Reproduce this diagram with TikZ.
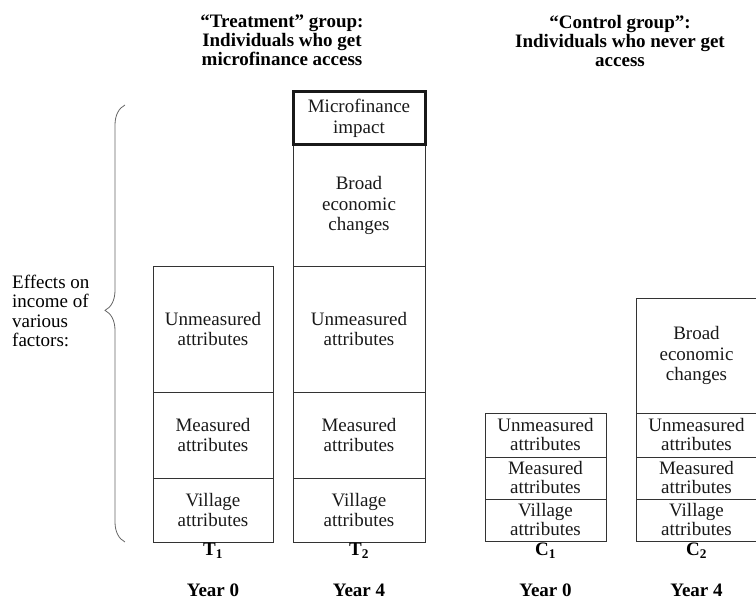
\documentclass[tikz,border=0pt]{standalone}
\usepackage{fontspec}
\setmainfont{Liberation Serif}
\usetikzlibrary{decorations.pathreplacing}

\begin{document}
\begin{tikzpicture}[x=1pt,y=-1pt,
  cell/.style={draw=black!80, line width=0.8pt, inner sep=0pt, align=center,
    text=black!90, font=\fontsize{19}{20.5}\selectfont},
  tightcell/.style={cell, font=\fontsize{19}{19}\selectfont},
  keycell/.style={cell, line width=3pt, draw=black!90},
  heading/.style={align=center, inner sep=0pt, font=\fontsize{19}{19}\selectfont\bfseries},
  colname/.style={inner sep=0pt, font=\fontsize{19}{19}\selectfont\bfseries},
  sidetext/.style={align=left, inner sep=0pt, font=\fontsize{19}{19.5}\selectfont}]
\useasboundingbox (0,0) rectangle (756,601);

% column headings
\node[heading] (treat) at (282,40.5) {“Treatment” group:\\Individuals who get\\microfinance access};
\node[heading] (ctrl) at (620,41.5) {“Control group”:\\Individuals who never get\\access};

% treatment, year 0
\node[cell, minimum width=120, minimum height=126] (t1u) at (213,329) {Unmeasured\\attributes};
\node[cell, minimum width=120, minimum height=86] (t1m) at (213,435) {Measured\\attributes};
\node[cell, minimum width=120, minimum height=64] (t1v) at (213,510) {Village\\attributes};

% treatment, year 4
\node[cell, minimum width=132, minimum height=121] (t2b) at (359,205.5) {Broad\\economic\\changes};
\node[cell, minimum width=132, minimum height=126] (t2u) at (359,329) {Unmeasured\\attributes};
\node[cell, minimum width=132, minimum height=86] (t2m) at (359,435) {Measured\\attributes};
\node[cell, minimum width=132, minimum height=64] (t2v) at (359,510) {Village\\attributes};
\node[keycell, minimum width=132, minimum height=53] (t2i) at (359,118.5) {Microfinance\\impact};

% control, year 0
\node[tightcell, minimum width=121, minimum height=44] (c1u) at (545.5,435) {Unmeasured\\attributes};
\node[tightcell, minimum width=121, minimum height=42] (c1m) at (545.5,478) {Measured\\attributes};
\node[tightcell, minimum width=121, minimum height=42] (c1v) at (545.5,520) {Village\\attributes};

% control, year 4
\node[cell, minimum width=121, minimum height=115] (c2b) at (696.5,355.5) {Broad\\economic\\changes};
\node[tightcell, minimum width=121, minimum height=44] (c2u) at (696.5,435) {Unmeasured\\attributes};
\node[tightcell, minimum width=121, minimum height=42] (c2m) at (696.5,478) {Measured\\attributes};
\node[tightcell, minimum width=121, minimum height=42] (c2v) at (696.5,520) {Village\\attributes};

% column names and years
\node[colname] (n1) at (213,551) {T\textsubscript{\textbf{1}}};
\node[colname] (n2) at (359,551) {T\textsubscript{\textbf{2}}};
\node[colname] (n3) at (545.5,551) {C\textsubscript{\textbf{1}}};
\node[colname] (n4) at (696.5,551) {C\textsubscript{\textbf{2}}};
\node[colname] (y1) at (213,590) {Year 0};
\node[colname] (y2) at (359,590) {Year 4};
\node[colname] (y3) at (545.5,590) {Year 0};
\node[colname] (y4) at (696.5,590) {Year 4};

% brace with its caption
\coordinate (braceTop) at (125,105);
\coordinate (braceBottom) at (125,542);
\draw[black!60, line width=0.8pt,
  decorate, decoration={brace, amplitude=20pt, aspect=0.53}]
  (braceBottom) -- (braceTop);
\node[sidetext, anchor=west] (effects) at (12,311) {Effects on\\income of\\various\\factors:};
\end{tikzpicture}
\end{document}
